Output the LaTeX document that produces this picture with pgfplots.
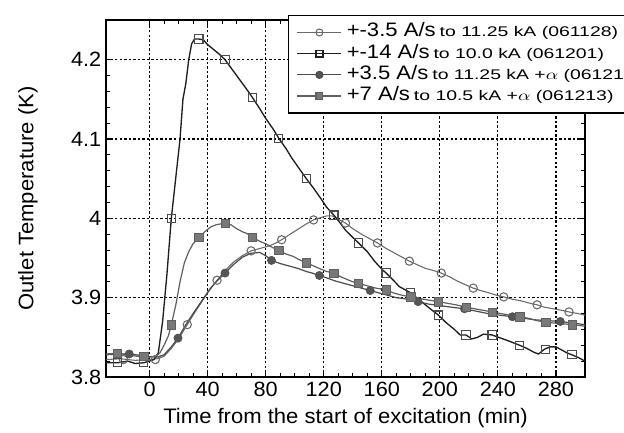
\documentclass[border=0pt]{standalone}
\usepackage{fontspec}
\setmainfont{Liberation Sans}[FakeStretch=1.05]
\usepackage{graphicx}
\usepackage{pgfplots}
\pgfplotsset{compat=1.18}

\definecolor{cA}{RGB}{105,105,105}
\definecolor{cB}{RGB}{30,30,30}
\definecolor{cC}{RGB}{75,75,75}
\definecolor{cCf}{RGB}{85,85,85}
\definecolor{cD}{RGB}{95,95,95}
\definecolor{cDf}{RGB}{120,120,120}

% legend text: larger rate, smaller wide-set target
\newcommand{\lgd}[2]{{\fontsize{14.6}{16}\selectfont\scalebox{1.08}[1]{#1}}\hspace{3pt}{\fontsize{10.5}{12}\selectfont\scalebox{1.32}[1]{#2}}}

\begin{document}
\begin{tikzpicture}
\useasboundingbox (-79.5pt,-41.25pt) rectangle (388.5pt,282.75pt);
\begin{axis}[
  at={(0pt,0pt)}, anchor=south west,
  scale only axis, width=359.25pt, height=267.75pt,
  xmin=-30, xmax=300, ymin=3.8, ymax=4.25,
  xtick={0,40,...,280}, ytick={3.8,3.9,4.0,4.1,4.2},
  minor x tick num=3, minor y tick num=4,
  major tick length=5pt, minor tick length=3.2pt,
  tick align=inside,
  tick style={black, line width=0.8pt},
  axis line style={black, line width=1.1pt},
  grid=major,
  major grid style={black, line width=0.8pt, dash pattern=on 1.8pt off 1.6pt},
  /pgf/number format/assume math mode=true,
  tick label style={font=\fontsize{15.5}{18}\selectfont},
  xlabel={Time from the start of excitation (min)},
  ylabel={Outlet Temperature (K)},
  label style={font=\fontsize{15.75}{18}\selectfont},
  xlabel style={at={(axis description cs:0.5,-0.1148)}, anchor=center},
  ylabel style={at={(axis description cs:-0.163,0.5)}, anchor=center},
  legend image code/.code={\draw[mark repeat=2,mark phase=2,#1] plot coordinates {(0pt,0pt) (16.5pt,0pt) (33pt,0pt)};},
  legend style={at={(axis description cs:0.38,1.014)}, anchor=north west,
    draw=black, line width=1.1pt, fill=white, inner xsep=6pt, inner ysep=4.6pt,
    row sep=0pt, nodes={inner ysep=0pt, inner xsep=3.5pt, text height=11.3pt, text depth=4.6pt},
    cells={anchor=west}},
]
% lines
\addplot[cA, line width=0.8pt, forget plot] coordinates {
(-30,3.822) (-20,3.823) (-10,3.821) (0,3.822) (5,3.823) (10,3.826) (15,3.836) (20,3.848)
(26,3.866) (30,3.878) (35,3.892) (40,3.906) (46.5,3.922) (52,3.934) (58,3.945) (64,3.953)
(70,3.959) (76,3.962) (82,3.965) (86,3.968) (91,3.973) (96,3.979) (102,3.986) (108,3.993)
(113,3.998) (118,4.001) (122,4.003) (126,4.003) (130,3.999) (135,3.994) (140,3.987)
(146,3.980) (151,3.975) (157,3.969) (163,3.962) (168,3.957) (174,3.951) (179,3.946)
(185,3.941) (190,3.937) (196,3.934) (201,3.931) (207,3.926) (212,3.921) (218,3.916)
(223,3.912) (228,3.909) (234,3.906) (239,3.903) (244,3.901) (250,3.898) (256,3.896)
(262,3.893) (267,3.891) (272,3.888) (278,3.886) (284,3.884) (289,3.882) (295,3.880) (300,3.878)
};
\addplot[cB, line width=1pt, forget plot] coordinates {
(-30,3.818) (-22,3.818) (-15,3.820) (-10,3.817) (-4,3.818) (0,3.820) (3,3.822) (6,3.830)
(9,3.87) (12,3.93) (15,4.0) (18,4.05) (21,4.10) (23,4.15) (25,4.17) (27,4.20) (29,4.22)
(31,4.226) (34,4.226) (37,4.225) (40,4.219) (44,4.213) (48,4.207) (52,4.20) (56,4.19)
(60,4.18) (64,4.17) (68,4.16) (71,4.152) (76,4.138) (80,4.126) (85,4.113) (89,4.101)
(94,4.088) (98,4.076) (103,4.063) (108,4.05) (113,4.038) (118,4.025) (122,4.014)
(127,4.004) (131,3.995) (135,3.985) (140,3.976) (144,3.969) (150,3.958) (155,3.946)
(160,3.936) (163,3.931) (168,3.922) (172,3.914) (176,3.91) (180,3.906) (186,3.897)
(192,3.888) (199,3.878) (204,3.869) (210,3.860) (214,3.853) (218,3.853) (222,3.848)
(226,3.850) (230,3.854) (236,3.853) (242,3.849) (248,3.845) (255,3.840) (260,3.836)
(265,3.831) (268,3.829) (272,3.835) (276,3.838) (280,3.838) (284,3.834) (288,3.830)
(291,3.828) (296,3.824) (300,3.820)
};
\addplot[cC, line width=0.9pt, forget plot] coordinates {
(-30,3.828) (-20,3.829) (-14,3.829) (-5,3.827) (0,3.826) (5,3.825) (10,3.828) (15,3.838)
(19.6,3.849) (25,3.866) (30,3.880) (36,3.896) (42,3.912) (47,3.922) (52,3.931) (58,3.942)
(64,3.951) (70,3.956) (76,3.957) (80,3.953) (84,3.947) (90,3.943) (96,3.940) (102,3.937)
(108,3.933) (112,3.931) (117,3.928) (122,3.925) (128,3.921) (134,3.918) (140,3.915)
(146,3.912) (152,3.909) (158,3.906) (164,3.903) (170,3.900) (178,3.898) (185,3.895)
(192,3.892) (200,3.890) (208,3.888) (217,3.886) (225,3.883) (233,3.880) (241,3.878)
(250,3.876) (258,3.874) (266,3.872) (275,3.871) (283,3.870) (291,3.868) (300,3.866)
};
\addplot[cD, line width=0.9pt, forget plot] coordinates {
(-30,3.829) (-22,3.830) (-15,3.828) (-8,3.826) (-4,3.826) (0,3.825) (4,3.826) (7,3.830)
(10,3.840) (13,3.852) (15,3.866) (18,3.890) (21,3.920) (24,3.944) (27,3.958) (30,3.968)
(34,3.976) (38,3.983) (42,3.989) (46,3.992) (52,3.994) (56,3.992) (60,3.987) (64,3.983)
(67,3.981) (71,3.976) (76,3.971) (80,3.968) (85,3.963) (89,3.960) (94,3.955) (99,3.952)
(103,3.948) (108,3.944) (113,3.940) (118,3.936) (122,3.933) (127,3.931) (131,3.927)
(136,3.923) (140,3.920) (144,3.918) (150,3.915) (156,3.912) (163,3.910) (168,3.906)
(174,3.903) (180,3.901) (186,3.899) (192,3.897) (199,3.895) (205,3.893) (211,3.891)
(218,3.888) (224,3.886) (230,3.884) (236,3.882) (242,3.880) (248,3.878) (255,3.876)
(261,3.874) (267,3.871) (273,3.869) (279,3.868) (285,3.867) (291,3.866) (296,3.865) (300,3.864)
};
% markers
\addplot[only marks, mark=o, mark size=3.1pt, mark options={draw=cA, fill=white, line width=0.8pt}, forget plot] coordinates {
(-18,3.822) (4,3.822) (26,3.866) (46.5,3.922) (70,3.959) (91,3.973) (113,3.998) (135,3.994)
(157,3.969) (179,3.946) (201,3.931) (223,3.912) (244,3.901) (267,3.891) (289,3.882)
};
\addplot[only marks, mark=square, mark size=3.1pt, mark options={draw=cC, fill=white, line width=0.8pt}, forget plot] coordinates {
(-22,3.818) (-4,3.818) (15,4.0) (34,4.226) (52,4.2) (71,4.152) (89,4.101) (108,4.05)
(127,4.004) (144,3.969) (163,3.931) (180,3.906) (199,3.878) (218,3.853) (236,3.853)
(255,3.840) (273,3.835) (291,3.828)
};
\addplot[only marks, mark=*, mark size=3.1pt, mark options={draw=cC, fill=cCf}, forget plot] coordinates {
(-14,3.829) (19.6,3.849) (52,3.931) (84,3.947) (117,3.928) (152,3.909) (185,3.895)
(217,3.886) (250,3.876) (283,3.870)
};
\addplot[only marks, mark=square*, mark size=3.1pt, mark options={draw=cD, fill=cDf}, forget plot] coordinates {
(-22,3.830) (-4,3.826) (15,3.866) (34,3.976) (52,3.994) (71,3.976) (89,3.960) (108,3.944)
(127,3.931) (144,3.918) (163,3.910) (180,3.901) (199,3.895) (218,3.888) (236,3.882)
(255,3.876) (273,3.869) (291,3.866)
};
% legend
\addlegendimage{cA, line width=0.8pt, mark=o, mark size=2.6pt, mark options={fill=white}}
\addlegendentry{\lgd{+-3.5\ A/s}{to 11.25 kA (061128)}}
\addlegendimage{cB, line width=1pt, mark=square, mark size=2.6pt, mark options={fill=white}}
\addlegendentry{\lgd{+-14\ A/s}{to 10.0 kA (061201)}}
\addlegendimage{cC, line width=0.9pt, mark=*, mark size=2.6pt, mark options={fill=cCf}}
\addlegendentry{\lgd{+3.5\ A/s}{to 11.25 kA +$\alpha$ (061212)}}
\addlegendimage{cD, line width=0.9pt, mark=square*, mark size=2.6pt, mark options={fill=cDf}}
\addlegendentry{\lgd{+7\ A/s}{to 10.5 kA +$\alpha$ (061213)}}
\end{axis}
\end{tikzpicture}
\end{document}
